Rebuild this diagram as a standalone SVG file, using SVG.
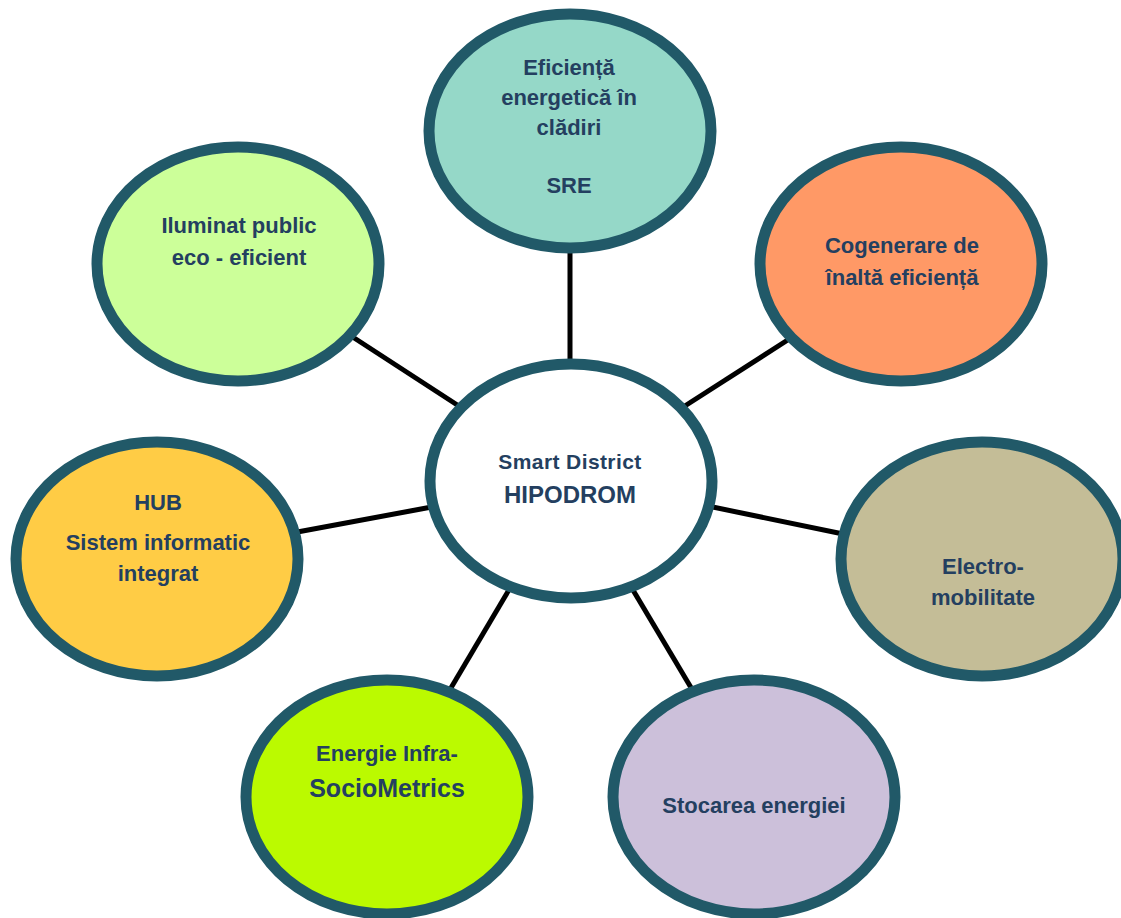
<svg xmlns="http://www.w3.org/2000/svg" width="1121" height="918" viewBox="0 0 1121 918">
<style>
.n{stroke:#215968;stroke-width:11}
.t{font-family:"Liberation Sans",Arial,sans-serif;font-weight:bold;font-size:22px;fill:#243F60;text-anchor:middle}
.c{stroke:#000;stroke-width:5;fill:none}
</style>
<rect width="1121" height="918" fill="#fff"/>
<g id="connectors">
<line class="c" x1="570" y1="240" x2="570" y2="370"/>
<line class="c" x1="345" y1="332" x2="465" y2="410"/>
<line class="c" x1="797" y1="334" x2="677" y2="411"/>
<line class="c" x1="292" y1="533" x2="437" y2="506"/>
<line class="c" x1="703" y1="505" x2="848" y2="535"/>
<line class="c" x1="513" y1="583" x2="445" y2="698"/>
<line class="c" x1="627" y1="580" x2="696" y2="696"/>
</g>
<g id="node-eficienta">
<ellipse class="n" cx="570" cy="131" rx="141" ry="117" fill="#95D8C8"/>
<text class="t" x="569" y="75">Eficiență</text>
<text class="t" x="569" y="105">energetică în</text>
<text class="t" x="569" y="135">clădiri</text>
<text class="t" x="569" y="193">SRE</text>
</g>
<g id="node-iluminat">
<ellipse class="n" cx="238" cy="264" rx="141" ry="117" fill="#CCFF99"/>
<text class="t" x="239" y="233">Iluminat public</text>
<text class="t" x="239" y="265">eco - eficient</text>
</g>
<g id="node-cogenerare">
<ellipse class="n" cx="901" cy="264" rx="141" ry="117" fill="#FF9966"/>
<text class="t" x="902" y="253">Cogenerare de</text>
<text class="t" x="902" y="285">înaltă eficiență</text>
</g>
<g id="node-center">
<ellipse class="n" cx="571" cy="481" rx="141" ry="117" fill="#fff"/>
<text class="t" x="570" y="469" style="font-size:21px;letter-spacing:0.4px">Smart District</text>
<text class="t" x="570" y="503" style="font-size:24px">HIPODROM</text>
</g>
<g id="node-hub">
<ellipse class="n" cx="157" cy="559" rx="141" ry="117" fill="#FFCC45"/>
<text class="t" x="158" y="510">HUB</text>
<text class="t" x="158" y="550">Sistem informatic</text>
<text class="t" x="158" y="581">integrat</text>
</g>
<g id="node-electro">
<ellipse class="n" cx="982" cy="559" rx="141" ry="117" fill="#C4BD97"/>
<text class="t" x="983" y="574">Electro-</text>
<text class="t" x="983" y="605">mobilitate</text>
</g>
<g id="node-energie">
<ellipse class="n" cx="387" cy="797" rx="141" ry="117" fill="#BBFA00"/>
<text class="t" x="387" y="761">Energie Infra-</text>
<text class="t" x="387" y="797" style="font-size:25px">SocioMetrics</text>
</g>
<g id="node-stocare">
<ellipse class="n" cx="754" cy="797" rx="141" ry="117" fill="#CCC0DA"/>
<text class="t" x="754" y="813">Stocarea energiei</text>
</g>
</svg>
